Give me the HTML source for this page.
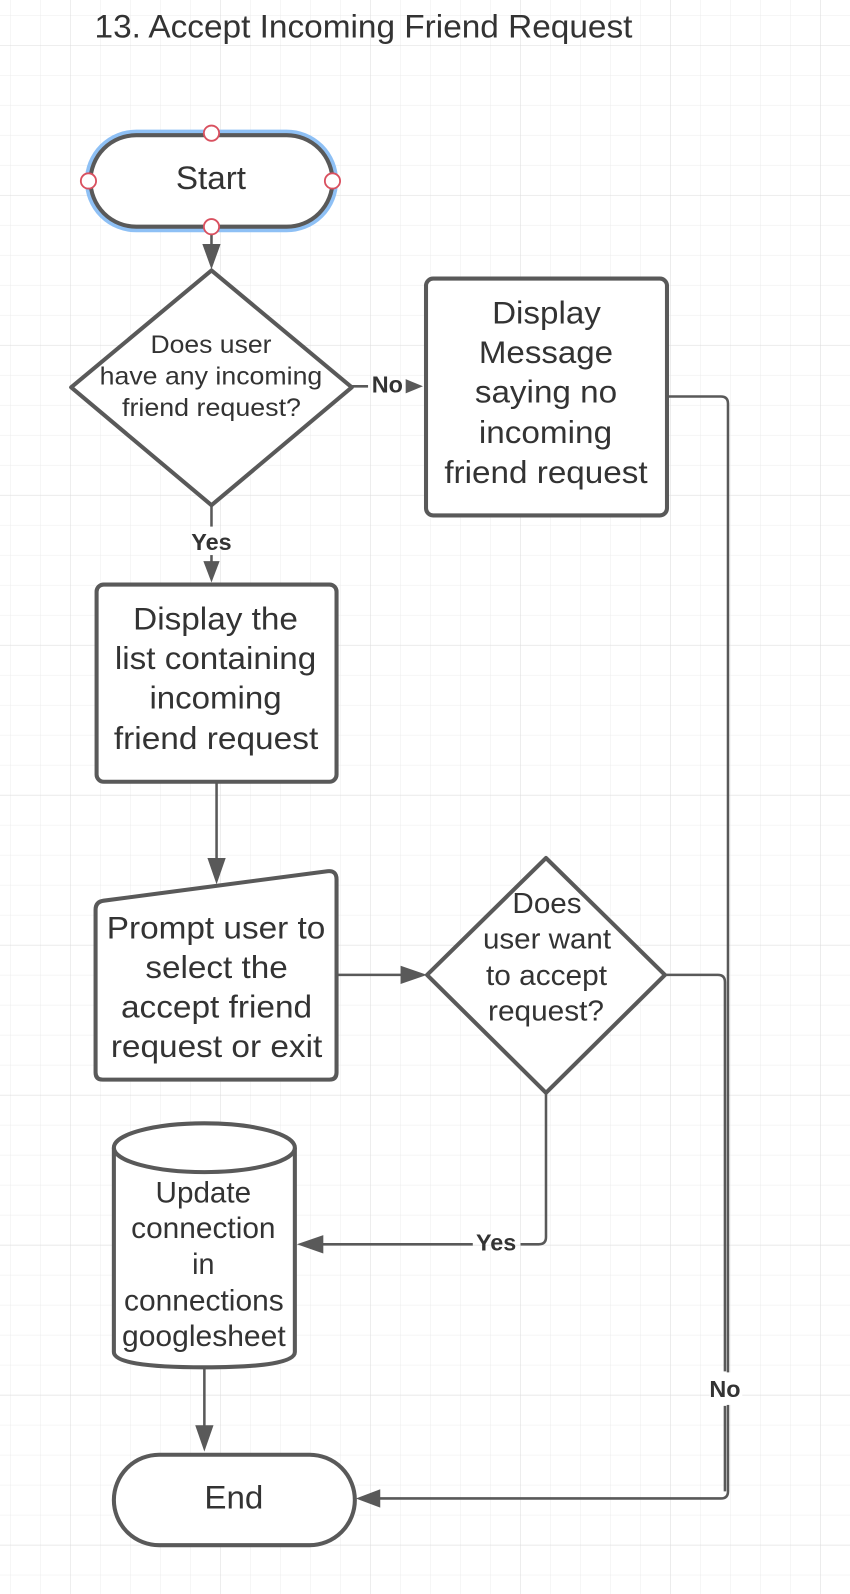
<!DOCTYPE html>
<html><head><meta charset="utf-8"><style>
html,body{margin:0;padding:0;background:#fff;}
svg{display:block;}
text{font-family:"Liberation Sans",sans-serif;fill:#333;}
</style></head><body>
<svg width="850" height="1594" viewBox="0 0 836 1568" preserveAspectRatio="none" xmlns="http://www.w3.org/2000/svg">
<defs>
<pattern id="minor" x="9.84" y="14.75" width="29.507" height="29.507" patternUnits="userSpaceOnUse">
<path d="M0 0V29.507M0 0H29.507" stroke="#ececec" stroke-width="1" fill="none"/>
</pattern>
<pattern id="major" x="68.85" y="44.26" width="147.54" height="147.54" patternUnits="userSpaceOnUse">
<path d="M0 0V147.54M0 0H147.54" stroke="#dcdcdc" stroke-width="1" fill="none"/>
</pattern>
</defs>
<rect width="836" height="1568" fill="url(#minor)"/>
<rect width="836" height="1568" fill="url(#major)"/>

<text x="93" y="37" font-size="32" textLength="529" lengthAdjust="spacingAndGlyphs">13. Accept Incoming Friend Request</text>

<g stroke="#595959" stroke-width="2.5" fill="none">
<path d="M208 225V248"/>
<path d="M346 380H362"/><path d="M400 380H402"/>
<path d="M656 390H709Q716 390 716 397V1467Q716 1474 709 1474H370"/>
<path d="M654 959H706Q713 959 713 966V1349"/><path d="M713 1383V1467"/>
<path d="M208 497V518"/><path d="M208 546V556"/>
<path d="M213 769V848"/>
<path d="M331 959H398"/>
<path d="M537 1075V1217Q537 1224 530 1224H512"/><path d="M465 1224H316"/>
<path d="M201 1345V1408"/>
</g>
<g fill="#595959">
<path d="M199 240H217L208 265Z"/>
<path d="M399 373V387L416 380Z"/>
<path d="M200 552H216L208 573Z"/>
<path d="M204 844H222L213 870Z"/>
<path d="M394 950V968L420 959Z"/>
<path d="M318 1215V1233L292 1224Z"/>
<path d="M374 1465V1483L350 1474Z"/>
<path d="M192 1402H210L201 1428Z"/>
</g>

<rect x="86" y="130" width="244" height="96" rx="48" fill="none" stroke="#8ec0f5" stroke-width="5"/>
<rect x="89" y="133" width="238" height="90" rx="45" fill="#fff" stroke="#595959" stroke-width="4"/>
<text x="173" y="186" font-size="32" textLength="69" lengthAdjust="spacingAndGlyphs">Start</text>
<g fill="#fff" stroke="#d9505f" stroke-width="1.8">
<circle cx="208" cy="131" r="7.5"/><circle cx="87" cy="178" r="7.5"/><circle cx="327" cy="178" r="7.5"/><circle cx="208" cy="223" r="7.5"/>
</g>

<path d="M208 266L346 381L208 497L70 381Z" fill="#fff" stroke="#595959" stroke-width="4" stroke-linejoin="round"/>
<g font-size="25" lengthAdjust="spacingAndGlyphs">
<text x="148" y="347" textLength="119" lengthAdjust="spacingAndGlyphs">Does user</text>
<text x="98" y="378" textLength="219" lengthAdjust="spacingAndGlyphs">have any incoming</text>
<text x="120" y="409" textLength="176" lengthAdjust="spacingAndGlyphs">friend request?</text>
</g>
<text x="381" y="386" font-size="23" font-weight="bold" text-anchor="middle">No</text>

<rect x="419" y="274" width="237" height="233" rx="7" fill="#fff" stroke="#595959" stroke-width="4"/>
<g font-size="31">
<text x="484" y="318" textLength="107" lengthAdjust="spacingAndGlyphs">Display</text>
<text x="471" y="357" textLength="132" lengthAdjust="spacingAndGlyphs">Message</text>
<text x="467" y="396" textLength="140" lengthAdjust="spacingAndGlyphs">saying no</text>
<text x="471" y="436" textLength="131" lengthAdjust="spacingAndGlyphs">incoming</text>
<text x="437" y="475" textLength="200" lengthAdjust="spacingAndGlyphs">friend request</text>
</g>

<text x="208" y="541" font-size="23" font-weight="bold" text-anchor="middle">Yes</text>

<rect x="95" y="575" width="236" height="194" rx="7" fill="#fff" stroke="#595959" stroke-width="4"/>
<g font-size="31">
<text x="131" y="619" textLength="162" lengthAdjust="spacingAndGlyphs">Display the</text>
<text x="113" y="658" textLength="198" lengthAdjust="spacingAndGlyphs">list containing</text>
<text x="147" y="697" textLength="130" lengthAdjust="spacingAndGlyphs">incoming</text>
<text x="112" y="737" textLength="201" lengthAdjust="spacingAndGlyphs">friend request</text>
</g>

<path d="M102 886L322 857Q331 856 331 865V1055Q331 1062 324 1062H101Q94 1062 94 1055V895Q94 887 102 886Z" fill="#fff" stroke="#595959" stroke-width="4"/>
<g font-size="31">
<text x="105" y="923" textLength="215" lengthAdjust="spacingAndGlyphs">Prompt user to</text>
<text x="143" y="962" textLength="140" lengthAdjust="spacingAndGlyphs">select the</text>
<text x="119" y="1001" textLength="188" lengthAdjust="spacingAndGlyphs">accept friend</text>
<text x="109" y="1040" textLength="208" lengthAdjust="spacingAndGlyphs">request or exit</text>
</g>

<path d="M537 844L654 959L537 1075L420 959Z" fill="#fff" stroke="#595959" stroke-width="4" stroke-linejoin="round"/>
<g font-size="28">
<text x="504" y="898" textLength="68" lengthAdjust="spacingAndGlyphs">Does</text>
<text x="475" y="933" textLength="126" lengthAdjust="spacingAndGlyphs">user want</text>
<text x="478" y="969" textLength="119" lengthAdjust="spacingAndGlyphs">to accept</text>
<text x="480" y="1004" textLength="114" lengthAdjust="spacingAndGlyphs">request?</text>
</g>
<text x="488" y="1230" font-size="23" font-weight="bold" text-anchor="middle">Yes</text>
<rect x="698" y="1350" width="32" height="32" fill="#fff"/>
<text x="713" y="1374" font-size="23" font-weight="bold" text-anchor="middle">No</text>

<path d="M112 1129V1330Q112 1345 201 1345Q290 1345 290 1330V1129" fill="#fff" stroke="#595959" stroke-width="4"/>
<ellipse cx="201" cy="1129" rx="89" ry="24" fill="#fff" stroke="#595959" stroke-width="4"/>
<g font-size="29">
<text x="153" y="1183" textLength="94" lengthAdjust="spacingAndGlyphs">Update</text>
<text x="129" y="1218" textLength="142" lengthAdjust="spacingAndGlyphs">connection</text>
<text x="189" y="1253" textLength="22" lengthAdjust="spacingAndGlyphs">in</text>
<text x="122" y="1289" textLength="157" lengthAdjust="spacingAndGlyphs">connections</text>
<text x="120" y="1324" textLength="161" lengthAdjust="spacingAndGlyphs">googlesheet</text>
</g>

<rect x="112" y="1431" width="237" height="89" rx="44.5" fill="#fff" stroke="#595959" stroke-width="4"/>
<text x="201" y="1484" font-size="32" textLength="58" lengthAdjust="spacingAndGlyphs">End</text>
</svg>
</body></html>
